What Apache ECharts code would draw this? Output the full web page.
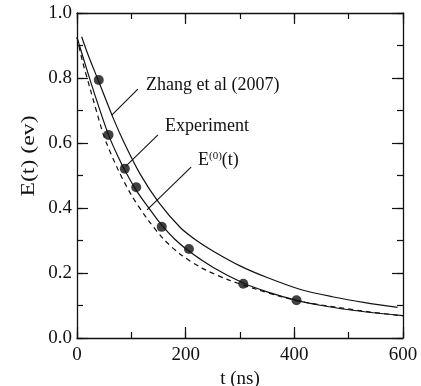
<!DOCTYPE html>
<html>
<head>
<meta charset="utf-8">
<script src="https://cdn.jsdelivr.net/npm/echarts@6/dist/echarts.min.js"></script>
<style>
html,body{margin:0;padding:0;background:#fff;}
#chart{width:421px;height:386px;}
</style>
</head>
<body>
<div id="chart"></div>
<script>
// ---- data ----
var zhangT = [8.6, 20, 40, 67, 87, 116, 150, 190, 220, 250, 300, 350, 410, 470, 530, 590];
var zhangE = [0.927, 0.873, 0.789, 0.675, 0.600, 0.505, 0.418, 0.340, 0.300, 0.268, 0.222, 0.186, 0.150, 0.127, 0.109, 0.094];

var fitT = [0, 10, 25, 40, 58, 75, 90, 110, 130, 156, 180, 207, 250, 306, 350, 404, 450, 500, 550, 600];
var fitE = [0.925, 0.870, 0.789, 0.712, 0.625, 0.560, 0.510, 0.452, 0.405, 0.347, 0.304, 0.266, 0.218, 0.169, 0.142, 0.116, 0.100, 0.087, 0.077, 0.069];

var e0T = [0, 10, 25, 45, 53, 75, 100, 130, 159, 190, 230, 280, 330, 374, 420, 480, 540, 600];
var e0E = [0.925, 0.852, 0.762, 0.645, 0.605, 0.520, 0.440, 0.365, 0.305, 0.258, 0.215, 0.178, 0.150, 0.128, 0.110, 0.094, 0.080, 0.068];

var expT = [40, 58, 88, 109, 156, 206, 306, 404];
var expE = [0.794, 0.625, 0.521, 0.464, 0.342, 0.274, 0.167, 0.116];

var xTicks = [0, 200, 400, 600];
var yTicks = [0.0, 0.2, 0.4, 0.6, 0.8, 1.0];

function pairs(a, b) { return a.map(function (v, i) { return [v, b[i]]; }); }

var FONT = '"Liberation Serif", "Times New Roman", serif';
var ink = '#111';
var W = 421, H = 386;
var PL = 77, PR = 18, PT = 13, PB = 48;
function grid(l, r, t, b) { return {left: l, right: r, top: t, bottom: b, containLabel: false, outerBoundsMode: 'none'}; }

var chart = echarts.init(document.getElementById('chart'), null, {renderer: 'canvas'});

function axis(dim, opts) {
  return {
    type: 'value',
    gridIndex: opts.grid,
    position: opts.position,
    min: dim === 'x' ? xTicks[0] : yTicks[0],
    max: dim === 'x' ? xTicks[xTicks.length - 1] : yTicks[yTicks.length - 1],
    interval: opts.interval,
    axisLine: {show: opts.line, onZero: false, lineStyle: {color: ink, width: 1.3}},
    axisTick: {show: opts.tickLen > 0, inside: !!opts.inside, length: opts.tickLen, lineStyle: {color: ink, width: 1.2}},
    minorTick: {show: false},
    splitLine: {show: false},
    axisLabel: {show: !!opts.labels, color: ink, fontFamily: FONT, fontSize: 19, margin: opts.margin || 6,
                formatter: opts.formatter}
  };
}

var xAxes = [
  Object.assign(axis('x', {grid: 0, position: 'bottom', interval: 200, line: true, tickLen: 11, inside: true, labels: true, margin: 8,
    formatter: function (v) { return String(v); }}), {
    name: 't (ns)', nameLocation: 'middle', nameGap: 31,
    nameTextStyle: {color: ink, fontFamily: FONT, fontSize: 19}}),
  axis('x', {grid: 0, position: 'top', interval: 200, line: true, tickLen: 11, inside: true}),
  axis('x', {grid: 1, position: 'bottom', interval: 100, line: false, tickLen: 6, inside: true}),
  axis('x', {grid: 1, position: 'top', interval: 100, line: false, tickLen: 6, inside: true}),
  axis('x', {grid: 2, position: 'bottom', interval: 200, line: false, tickLen: 0}),
  axis('x', {grid: 3, position: 'bottom', interval: 200, line: false, tickLen: 0})
];
var yAxes = [
  axis('y', {grid: 0, position: 'left', interval: 0.2, line: true, tickLen: 0, labels: true, margin: 5,
    formatter: function (v) { return v.toFixed(1); }}),
  axis('y', {grid: 0, position: 'right', interval: 0.2, line: true, tickLen: 11, inside: true}),
  axis('y', {grid: 1, position: 'left', interval: 0.1, line: false, tickLen: 0}),
  axis('y', {grid: 1, position: 'right', interval: 0.1, line: false, tickLen: 6, inside: true}),
  // left-side ticks: drawn from helper grids whose right edge is the left axis, pointing into the plot
  axis('y', {grid: 2, position: 'right', interval: 0.2, line: false, tickLen: 11, inside: false}),
  axis('y', {grid: 3, position: 'right', interval: 0.1, line: false, tickLen: 6, inside: false})
];

chart.setOption({
  animation: false,
  backgroundColor: '#fff',
  grid: [grid(PL, PR, PT, PB), grid(PL, PR, PT, PB), grid(0, W - PL, PT, PB), grid(0, W - PL, PT, PB)],
  xAxis: xAxes,
  yAxis: yAxes,
  series: [
    {type: 'line', name: 'Zhang et al (2007)', data: pairs(zhangT, zhangE), smooth: 0.3,
     xAxisIndex: 0, yAxisIndex: 0, showSymbol: false, lineStyle: {color: ink, width: 1.2}},
    {type: 'line', name: 'Experiment fit', data: pairs(fitT, fitE), smooth: 0.3,
     xAxisIndex: 0, yAxisIndex: 0, showSymbol: false, lineStyle: {color: ink, width: 1.2}},
    {type: 'line', name: 'E0', data: pairs(e0T, e0E), smooth: 0.3,
     xAxisIndex: 0, yAxisIndex: 0, showSymbol: false, lineStyle: {color: ink, width: 1.2, type: [5, 4]}},
    {type: 'scatter', name: 'Experiment', data: pairs(expT, expE), symbol: 'circle', symbolSize: 10,
     xAxisIndex: 0, yAxisIndex: 0, itemStyle: {color: ink}}
  ]
});

// annotations placed in data coordinates
var notes = [
  {text: 'Zhang et al (2007)', at: [127, 0.778], from: [112, 0.766], to: [64, 0.686]},
  {text: 'Experiment', at: [162, 0.652], from: [149, 0.625], to: [90, 0.529]},
  {text: '{a|E}{s|(0)}{a|(t)}', at: [222.7, 0.548], from: [210, 0.526], to: [129, 0.394]}
];
function px(d) { return chart.convertToPixel({xAxisIndex: 0, yAxisIndex: 0}, d); }
var g = [];
notes.forEach(function (n) {
  var p = px(n.at), a = px(n.from), b = px(n.to);
  g.push({type: 'line', shape: {x1: a[0], y1: a[1], x2: b[0], y2: b[1]},
          style: {stroke: ink, lineWidth: 1.1}});
  g.push({type: 'text', x: p[0], y: p[1],
          style: {text: n.text, fill: ink, font: '18px ' + FONT, verticalAlign: 'middle', align: 'left',
                  rich: {a: {fontSize: 18, fontFamily: FONT, fill: ink},
                         s: {fontSize: 11, fontFamily: FONT, fill: ink, padding: [0, 0, 8, 0]}}}});
});
// y-axis title (elongated along its length, as in the reference)
var yMid = px([0, 0.56]);
g.push({type: 'text', x: 29, y: yMid[1], rotation: Math.PI / 2, scaleX: 1.25,
        style: {text: 'E(t) (ev)', fill: ink, font: '19px ' + FONT, align: 'center', verticalAlign: 'middle'}});
chart.setOption({graphic: g});
</script>
</body>
</html>
